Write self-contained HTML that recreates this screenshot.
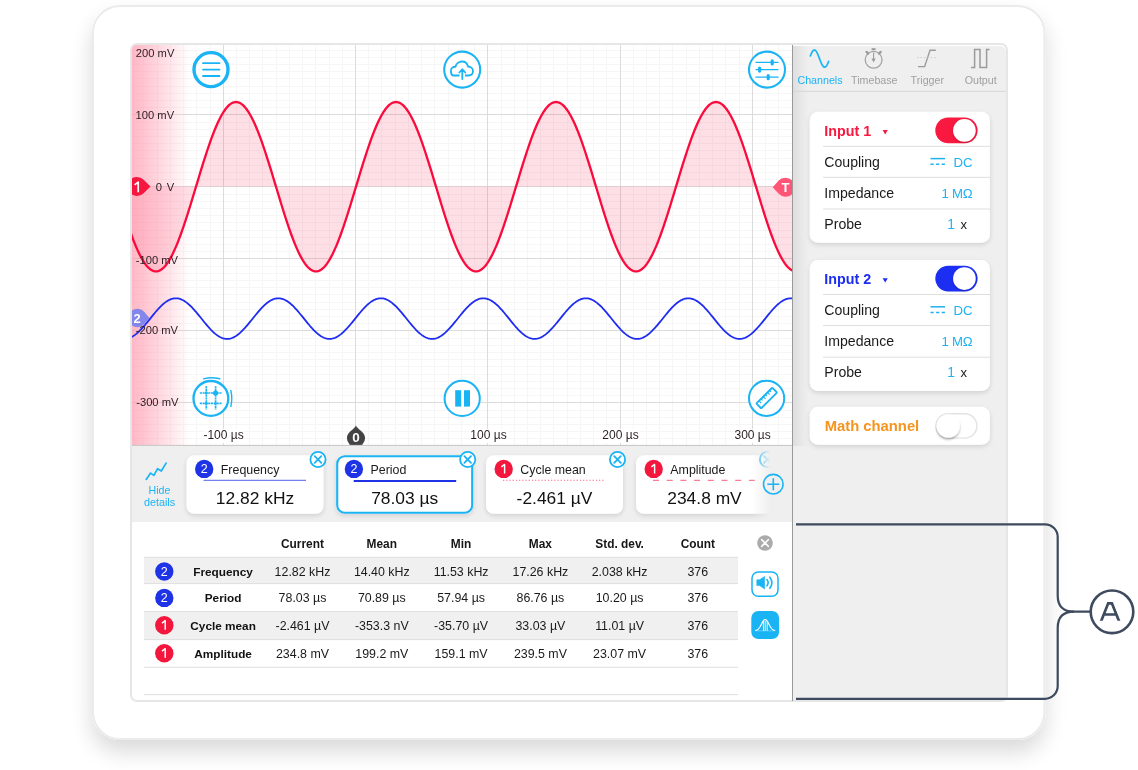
<!DOCTYPE html><html><head><meta charset="utf-8"><style>
html,body{margin:0;padding:0;width:1138px;height:770px;overflow:hidden;background:#fff;font-family:"Liberation Sans",sans-serif}
</style></head><body>
<svg width="1138" height="770" viewBox="0 0 1138 770" style="position:absolute;left:0;top:0;will-change:transform"><defs>
<filter id="fshadow" x="-10%" y="-10%" width="120%" height="125%"><feGaussianBlur in="SourceAlpha" stdDeviation="11"/><feOffset dy="12"/><feComponentTransfer><feFuncA type="linear" slope="0.15"/></feComponentTransfer><feMerge><feMergeNode/><feMergeNode in="SourceGraphic"/></feMerge></filter>
<filter id="cshadow" x="-20%" y="-20%" width="140%" height="150%"><feGaussianBlur in="SourceAlpha" stdDeviation="2.5"/><feOffset dy="1.5"/><feComponentTransfer><feFuncA type="linear" slope="0.13"/></feComponentTransfer><feMerge><feMergeNode/><feMergeNode in="SourceGraphic"/></feMerge></filter>
<linearGradient id="pinkgrad" x1="0" x2="1" y1="0" y2="0"><stop offset="0" stop-color="#ff8ea5" stop-opacity="0.64"/><stop offset="0.5" stop-color="#ff8ea5" stop-opacity="0.33"/><stop offset="1" stop-color="#ff8ea5" stop-opacity="0"/></linearGradient>
<linearGradient id="panelshade" x1="0" x2="1" y1="0" y2="0"><stop offset="0" stop-color="#000" stop-opacity="0.07"/><stop offset="1" stop-color="#000" stop-opacity="0"/></linearGradient>
<linearGradient id="fadeR" x1="0" x2="1" y1="0" y2="0"><stop offset="0" stop-color="#efefef" stop-opacity="0"/><stop offset="1" stop-color="#efefef" stop-opacity="1"/></linearGradient>
<clipPath id="scopeclip"><path d="M132 50 Q132 45 137 45 H792 V445 H132 Z"/></clipPath>
<clipPath id="barclip2"><rect x="132" y="446" width="640" height="76"/></clipPath><clipPath id="barclip"><rect x="132" y="446" width="660" height="76"/></clipPath>
<filter id="kshadow" x="-50%" y="-50%" width="200%" height="200%"><feGaussianBlur in="SourceAlpha" stdDeviation="1"/><feOffset dx="0" dy="1"/><feComponentTransfer><feFuncA type="linear" slope="0.25"/></feComponentTransfer><feMerge><feMergeNode/><feMergeNode in="SourceGraphic"/></feMerge></filter>
<filter id="kshadow2" x="-50%" y="-50%" width="200%" height="200%"><feGaussianBlur in="SourceAlpha" stdDeviation="1.2"/><feOffset dx="-0.5" dy="1.5"/><feComponentTransfer><feFuncA type="linear" slope="0.3"/></feComponentTransfer><feMerge><feMergeNode/><feMergeNode in="SourceGraphic"/></feMerge></filter>
</defs><rect x="93" y="6" width="951.5" height="733" rx="27" fill="#fff" stroke="#ebebeb" stroke-width="2" filter="url(#fshadow)"/><rect x="131" y="44" width="876" height="657" rx="6" fill="#fff" stroke="#e6e6e6" stroke-width="2"/><path d="M793 46 H1000 Q1006 46 1006 52 V700 H793 Z" fill="#efefef"/><rect x="793" y="46" width="15" height="400" fill="url(#panelshade)"/><rect x="132" y="446" width="660" height="76" fill="#efefef"/><g clip-path="url(#scopeclip)"><rect x="132" y="45" width="660" height="400" fill="#fff"/><line x1="143.50" y1="45" x2="143.50" y2="445" stroke="#f6f6f6" stroke-width="1"/><line x1="157.50" y1="45" x2="157.50" y2="445" stroke="#f6f6f6" stroke-width="1"/><line x1="170.50" y1="45" x2="170.50" y2="445" stroke="#f6f6f6" stroke-width="1"/><line x1="183.50" y1="45" x2="183.50" y2="445" stroke="#f6f6f6" stroke-width="1"/><line x1="196.50" y1="45" x2="196.50" y2="445" stroke="#f6f6f6" stroke-width="1"/><line x1="210.50" y1="45" x2="210.50" y2="445" stroke="#f6f6f6" stroke-width="1"/><line x1="236.50" y1="45" x2="236.50" y2="445" stroke="#f6f6f6" stroke-width="1"/><line x1="249.50" y1="45" x2="249.50" y2="445" stroke="#f6f6f6" stroke-width="1"/><line x1="262.50" y1="45" x2="262.50" y2="445" stroke="#f6f6f6" stroke-width="1"/><line x1="276.50" y1="45" x2="276.50" y2="445" stroke="#f6f6f6" stroke-width="1"/><line x1="289.50" y1="45" x2="289.50" y2="445" stroke="#f6f6f6" stroke-width="1"/><line x1="302.50" y1="45" x2="302.50" y2="445" stroke="#f6f6f6" stroke-width="1"/><line x1="315.50" y1="45" x2="315.50" y2="445" stroke="#f6f6f6" stroke-width="1"/><line x1="329.50" y1="45" x2="329.50" y2="445" stroke="#f6f6f6" stroke-width="1"/><line x1="342.50" y1="45" x2="342.50" y2="445" stroke="#f6f6f6" stroke-width="1"/><line x1="368.50" y1="45" x2="368.50" y2="445" stroke="#f6f6f6" stroke-width="1"/><line x1="381.50" y1="45" x2="381.50" y2="445" stroke="#f6f6f6" stroke-width="1"/><line x1="395.50" y1="45" x2="395.50" y2="445" stroke="#f6f6f6" stroke-width="1"/><line x1="408.50" y1="45" x2="408.50" y2="445" stroke="#f6f6f6" stroke-width="1"/><line x1="421.50" y1="45" x2="421.50" y2="445" stroke="#f6f6f6" stroke-width="1"/><line x1="434.50" y1="45" x2="434.50" y2="445" stroke="#f6f6f6" stroke-width="1"/><line x1="448.50" y1="45" x2="448.50" y2="445" stroke="#f6f6f6" stroke-width="1"/><line x1="461.50" y1="45" x2="461.50" y2="445" stroke="#f6f6f6" stroke-width="1"/><line x1="474.50" y1="45" x2="474.50" y2="445" stroke="#f6f6f6" stroke-width="1"/><line x1="501.50" y1="45" x2="501.50" y2="445" stroke="#f6f6f6" stroke-width="1"/><line x1="514.50" y1="45" x2="514.50" y2="445" stroke="#f6f6f6" stroke-width="1"/><line x1="527.50" y1="45" x2="527.50" y2="445" stroke="#f6f6f6" stroke-width="1"/><line x1="540.50" y1="45" x2="540.50" y2="445" stroke="#f6f6f6" stroke-width="1"/><line x1="553.50" y1="45" x2="553.50" y2="445" stroke="#f6f6f6" stroke-width="1"/><line x1="567.50" y1="45" x2="567.50" y2="445" stroke="#f6f6f6" stroke-width="1"/><line x1="580.50" y1="45" x2="580.50" y2="445" stroke="#f6f6f6" stroke-width="1"/><line x1="593.50" y1="45" x2="593.50" y2="445" stroke="#f6f6f6" stroke-width="1"/><line x1="606.50" y1="45" x2="606.50" y2="445" stroke="#f6f6f6" stroke-width="1"/><line x1="633.50" y1="45" x2="633.50" y2="445" stroke="#f6f6f6" stroke-width="1"/><line x1="646.50" y1="45" x2="646.50" y2="445" stroke="#f6f6f6" stroke-width="1"/><line x1="659.50" y1="45" x2="659.50" y2="445" stroke="#f6f6f6" stroke-width="1"/><line x1="672.50" y1="45" x2="672.50" y2="445" stroke="#f6f6f6" stroke-width="1"/><line x1="686.50" y1="45" x2="686.50" y2="445" stroke="#f6f6f6" stroke-width="1"/><line x1="699.50" y1="45" x2="699.50" y2="445" stroke="#f6f6f6" stroke-width="1"/><line x1="712.50" y1="45" x2="712.50" y2="445" stroke="#f6f6f6" stroke-width="1"/><line x1="725.50" y1="45" x2="725.50" y2="445" stroke="#f6f6f6" stroke-width="1"/><line x1="739.50" y1="45" x2="739.50" y2="445" stroke="#f6f6f6" stroke-width="1"/><line x1="765.50" y1="45" x2="765.50" y2="445" stroke="#f6f6f6" stroke-width="1"/><line x1="778.50" y1="45" x2="778.50" y2="445" stroke="#f6f6f6" stroke-width="1"/><line x1="132" y1="50.50" x2="792" y2="50.50" stroke="#f6f6f6" stroke-width="1"/><line x1="132" y1="57.50" x2="792" y2="57.50" stroke="#f6f6f6" stroke-width="1"/><line x1="132" y1="64.50" x2="792" y2="64.50" stroke="#f6f6f6" stroke-width="1"/><line x1="132" y1="71.50" x2="792" y2="71.50" stroke="#f6f6f6" stroke-width="1"/><line x1="132" y1="78.50" x2="792" y2="78.50" stroke="#f6f6f6" stroke-width="1"/><line x1="132" y1="86.50" x2="792" y2="86.50" stroke="#f6f6f6" stroke-width="1"/><line x1="132" y1="93.50" x2="792" y2="93.50" stroke="#f6f6f6" stroke-width="1"/><line x1="132" y1="100.50" x2="792" y2="100.50" stroke="#f6f6f6" stroke-width="1"/><line x1="132" y1="107.50" x2="792" y2="107.50" stroke="#f6f6f6" stroke-width="1"/><line x1="132" y1="122.50" x2="792" y2="122.50" stroke="#f6f6f6" stroke-width="1"/><line x1="132" y1="129.50" x2="792" y2="129.50" stroke="#f6f6f6" stroke-width="1"/><line x1="132" y1="136.50" x2="792" y2="136.50" stroke="#f6f6f6" stroke-width="1"/><line x1="132" y1="143.50" x2="792" y2="143.50" stroke="#f6f6f6" stroke-width="1"/><line x1="132" y1="150.50" x2="792" y2="150.50" stroke="#f6f6f6" stroke-width="1"/><line x1="132" y1="158.50" x2="792" y2="158.50" stroke="#f6f6f6" stroke-width="1"/><line x1="132" y1="165.50" x2="792" y2="165.50" stroke="#f6f6f6" stroke-width="1"/><line x1="132" y1="172.50" x2="792" y2="172.50" stroke="#f6f6f6" stroke-width="1"/><line x1="132" y1="179.50" x2="792" y2="179.50" stroke="#f6f6f6" stroke-width="1"/><line x1="132" y1="194.50" x2="792" y2="194.50" stroke="#f6f6f6" stroke-width="1"/><line x1="132" y1="201.50" x2="792" y2="201.50" stroke="#f6f6f6" stroke-width="1"/><line x1="132" y1="208.50" x2="792" y2="208.50" stroke="#f6f6f6" stroke-width="1"/><line x1="132" y1="215.50" x2="792" y2="215.50" stroke="#f6f6f6" stroke-width="1"/><line x1="132" y1="222.50" x2="792" y2="222.50" stroke="#f6f6f6" stroke-width="1"/><line x1="132" y1="230.50" x2="792" y2="230.50" stroke="#f6f6f6" stroke-width="1"/><line x1="132" y1="237.50" x2="792" y2="237.50" stroke="#f6f6f6" stroke-width="1"/><line x1="132" y1="244.50" x2="792" y2="244.50" stroke="#f6f6f6" stroke-width="1"/><line x1="132" y1="251.50" x2="792" y2="251.50" stroke="#f6f6f6" stroke-width="1"/><line x1="132" y1="266.50" x2="792" y2="266.50" stroke="#f6f6f6" stroke-width="1"/><line x1="132" y1="273.50" x2="792" y2="273.50" stroke="#f6f6f6" stroke-width="1"/><line x1="132" y1="280.50" x2="792" y2="280.50" stroke="#f6f6f6" stroke-width="1"/><line x1="132" y1="287.50" x2="792" y2="287.50" stroke="#f6f6f6" stroke-width="1"/><line x1="132" y1="294.50" x2="792" y2="294.50" stroke="#f6f6f6" stroke-width="1"/><line x1="132" y1="302.50" x2="792" y2="302.50" stroke="#f6f6f6" stroke-width="1"/><line x1="132" y1="309.50" x2="792" y2="309.50" stroke="#f6f6f6" stroke-width="1"/><line x1="132" y1="316.50" x2="792" y2="316.50" stroke="#f6f6f6" stroke-width="1"/><line x1="132" y1="323.50" x2="792" y2="323.50" stroke="#f6f6f6" stroke-width="1"/><line x1="132" y1="338.50" x2="792" y2="338.50" stroke="#f6f6f6" stroke-width="1"/><line x1="132" y1="345.50" x2="792" y2="345.50" stroke="#f6f6f6" stroke-width="1"/><line x1="132" y1="352.50" x2="792" y2="352.50" stroke="#f6f6f6" stroke-width="1"/><line x1="132" y1="359.50" x2="792" y2="359.50" stroke="#f6f6f6" stroke-width="1"/><line x1="132" y1="366.50" x2="792" y2="366.50" stroke="#f6f6f6" stroke-width="1"/><line x1="132" y1="374.50" x2="792" y2="374.50" stroke="#f6f6f6" stroke-width="1"/><line x1="132" y1="381.50" x2="792" y2="381.50" stroke="#f6f6f6" stroke-width="1"/><line x1="132" y1="388.50" x2="792" y2="388.50" stroke="#f6f6f6" stroke-width="1"/><line x1="132" y1="395.50" x2="792" y2="395.50" stroke="#f6f6f6" stroke-width="1"/><line x1="132" y1="410.50" x2="792" y2="410.50" stroke="#f6f6f6" stroke-width="1"/><line x1="132" y1="417.50" x2="792" y2="417.50" stroke="#f6f6f6" stroke-width="1"/><line x1="132" y1="424.50" x2="792" y2="424.50" stroke="#f6f6f6" stroke-width="1"/><line x1="132" y1="431.50" x2="792" y2="431.50" stroke="#f6f6f6" stroke-width="1"/><line x1="132" y1="438.50" x2="792" y2="438.50" stroke="#f6f6f6" stroke-width="1"/><line x1="223.50" y1="45" x2="223.50" y2="445" stroke="#dcdcdc" stroke-width="1"/><line x1="355.50" y1="45" x2="355.50" y2="445" stroke="#dcdcdc" stroke-width="1"/><line x1="487.50" y1="45" x2="487.50" y2="445" stroke="#dcdcdc" stroke-width="1"/><line x1="620.50" y1="45" x2="620.50" y2="445" stroke="#dcdcdc" stroke-width="1"/><line x1="752.50" y1="45" x2="752.50" y2="445" stroke="#dcdcdc" stroke-width="1"/><line x1="132" y1="114.50" x2="792" y2="114.50" stroke="#dcdcdc" stroke-width="1"/><line x1="132" y1="186.50" x2="792" y2="186.50" stroke="#dcdcdc" stroke-width="1"/><line x1="132" y1="258.50" x2="792" y2="258.50" stroke="#dcdcdc" stroke-width="1"/><line x1="132" y1="330.50" x2="792" y2="330.50" stroke="#dcdcdc" stroke-width="1"/><line x1="132" y1="402.50" x2="792" y2="402.50" stroke="#dcdcdc" stroke-width="1"/><path d="M130 186.4 L130.0 230.96 L131.0 233.76 L132.0 236.49 L133.0 239.14 L134.0 241.71 L135.0 244.19 L136.0 246.59 L137.0 248.90 L138.0 251.11 L139.0 253.22 L140.0 255.22 L141.0 257.13 L142.0 258.92 L143.0 260.60 L144.0 262.17 L145.0 263.62 L146.0 264.95 L147.0 266.16 L148.0 267.25 L149.0 268.22 L150.0 269.06 L151.0 269.77 L152.0 270.36 L153.0 270.81 L154.0 271.14 L155.0 271.33 L156.0 271.40 L157.0 271.33 L158.0 271.14 L159.0 270.81 L160.0 270.36 L161.0 269.77 L162.0 269.06 L163.0 268.22 L164.0 267.25 L165.0 266.16 L166.0 264.95 L167.0 263.62 L168.0 262.17 L169.0 260.60 L170.0 258.92 L171.0 257.13 L172.0 255.22 L173.0 253.22 L174.0 251.11 L175.0 248.90 L176.0 246.59 L177.0 244.19 L178.0 241.71 L179.0 239.14 L180.0 236.49 L181.0 233.76 L182.0 230.96 L183.0 228.09 L184.0 225.15 L185.0 222.16 L186.0 219.11 L187.0 216.02 L188.0 212.87 L189.0 209.69 L190.0 206.47 L191.0 203.22 L192.0 199.95 L193.0 196.66 L194.0 193.35 L195.0 190.03 L196.0 186.70 L197.0 183.37 L198.0 180.05 L199.0 176.74 L200.0 173.45 L201.0 170.18 L202.0 166.93 L203.0 163.71 L204.0 160.53 L205.0 157.38 L206.0 154.29 L207.0 151.24 L208.0 148.25 L209.0 145.31 L210.0 142.44 L211.0 139.64 L212.0 136.91 L213.0 134.26 L214.0 131.69 L215.0 129.21 L216.0 126.81 L217.0 124.50 L218.0 122.29 L219.0 120.18 L220.0 118.18 L221.0 116.27 L222.0 114.48 L223.0 112.80 L224.0 111.23 L225.0 109.78 L226.0 108.45 L227.0 107.24 L228.0 106.15 L229.0 105.18 L230.0 104.34 L231.0 103.63 L232.0 103.04 L233.0 102.59 L234.0 102.26 L235.0 102.07 L236.0 102.00 L237.0 102.07 L238.0 102.26 L239.0 102.59 L240.0 103.04 L241.0 103.63 L242.0 104.34 L243.0 105.18 L244.0 106.15 L245.0 107.24 L246.0 108.45 L247.0 109.78 L248.0 111.23 L249.0 112.80 L250.0 114.48 L251.0 116.27 L252.0 118.18 L253.0 120.18 L254.0 122.29 L255.0 124.50 L256.0 126.81 L257.0 129.21 L258.0 131.69 L259.0 134.26 L260.0 136.91 L261.0 139.64 L262.0 142.44 L263.0 145.31 L264.0 148.25 L265.0 151.24 L266.0 154.29 L267.0 157.38 L268.0 160.53 L269.0 163.71 L270.0 166.93 L271.0 170.18 L272.0 173.45 L273.0 176.74 L274.0 180.05 L275.0 183.37 L276.0 186.70 L277.0 190.03 L278.0 193.35 L279.0 196.66 L280.0 199.95 L281.0 203.22 L282.0 206.47 L283.0 209.69 L284.0 212.87 L285.0 216.02 L286.0 219.11 L287.0 222.16 L288.0 225.15 L289.0 228.09 L290.0 230.96 L291.0 233.76 L292.0 236.49 L293.0 239.14 L294.0 241.71 L295.0 244.19 L296.0 246.59 L297.0 248.90 L298.0 251.11 L299.0 253.22 L300.0 255.22 L301.0 257.13 L302.0 258.92 L303.0 260.60 L304.0 262.17 L305.0 263.62 L306.0 264.95 L307.0 266.16 L308.0 267.25 L309.0 268.22 L310.0 269.06 L311.0 269.77 L312.0 270.36 L313.0 270.81 L314.0 271.14 L315.0 271.33 L316.0 271.40 L317.0 271.33 L318.0 271.14 L319.0 270.81 L320.0 270.36 L321.0 269.77 L322.0 269.06 L323.0 268.22 L324.0 267.25 L325.0 266.16 L326.0 264.95 L327.0 263.62 L328.0 262.17 L329.0 260.60 L330.0 258.92 L331.0 257.13 L332.0 255.22 L333.0 253.22 L334.0 251.11 L335.0 248.90 L336.0 246.59 L337.0 244.19 L338.0 241.71 L339.0 239.14 L340.0 236.49 L341.0 233.76 L342.0 230.96 L343.0 228.09 L344.0 225.15 L345.0 222.16 L346.0 219.11 L347.0 216.02 L348.0 212.87 L349.0 209.69 L350.0 206.47 L351.0 203.22 L352.0 199.95 L353.0 196.66 L354.0 193.35 L355.0 190.03 L356.0 186.70 L357.0 183.37 L358.0 180.05 L359.0 176.74 L360.0 173.45 L361.0 170.18 L362.0 166.93 L363.0 163.71 L364.0 160.53 L365.0 157.38 L366.0 154.29 L367.0 151.24 L368.0 148.25 L369.0 145.31 L370.0 142.44 L371.0 139.64 L372.0 136.91 L373.0 134.26 L374.0 131.69 L375.0 129.21 L376.0 126.81 L377.0 124.50 L378.0 122.29 L379.0 120.18 L380.0 118.18 L381.0 116.27 L382.0 114.48 L383.0 112.80 L384.0 111.23 L385.0 109.78 L386.0 108.45 L387.0 107.24 L388.0 106.15 L389.0 105.18 L390.0 104.34 L391.0 103.63 L392.0 103.04 L393.0 102.59 L394.0 102.26 L395.0 102.07 L396.0 102.00 L397.0 102.07 L398.0 102.26 L399.0 102.59 L400.0 103.04 L401.0 103.63 L402.0 104.34 L403.0 105.18 L404.0 106.15 L405.0 107.24 L406.0 108.45 L407.0 109.78 L408.0 111.23 L409.0 112.80 L410.0 114.48 L411.0 116.27 L412.0 118.18 L413.0 120.18 L414.0 122.29 L415.0 124.50 L416.0 126.81 L417.0 129.21 L418.0 131.69 L419.0 134.26 L420.0 136.91 L421.0 139.64 L422.0 142.44 L423.0 145.31 L424.0 148.25 L425.0 151.24 L426.0 154.29 L427.0 157.38 L428.0 160.53 L429.0 163.71 L430.0 166.93 L431.0 170.18 L432.0 173.45 L433.0 176.74 L434.0 180.05 L435.0 183.37 L436.0 186.70 L437.0 190.03 L438.0 193.35 L439.0 196.66 L440.0 199.95 L441.0 203.22 L442.0 206.47 L443.0 209.69 L444.0 212.87 L445.0 216.02 L446.0 219.11 L447.0 222.16 L448.0 225.15 L449.0 228.09 L450.0 230.96 L451.0 233.76 L452.0 236.49 L453.0 239.14 L454.0 241.71 L455.0 244.19 L456.0 246.59 L457.0 248.90 L458.0 251.11 L459.0 253.22 L460.0 255.22 L461.0 257.13 L462.0 258.92 L463.0 260.60 L464.0 262.17 L465.0 263.62 L466.0 264.95 L467.0 266.16 L468.0 267.25 L469.0 268.22 L470.0 269.06 L471.0 269.77 L472.0 270.36 L473.0 270.81 L474.0 271.14 L475.0 271.33 L476.0 271.40 L477.0 271.33 L478.0 271.14 L479.0 270.81 L480.0 270.36 L481.0 269.77 L482.0 269.06 L483.0 268.22 L484.0 267.25 L485.0 266.16 L486.0 264.95 L487.0 263.62 L488.0 262.17 L489.0 260.60 L490.0 258.92 L491.0 257.13 L492.0 255.22 L493.0 253.22 L494.0 251.11 L495.0 248.90 L496.0 246.59 L497.0 244.19 L498.0 241.71 L499.0 239.14 L500.0 236.49 L501.0 233.76 L502.0 230.96 L503.0 228.09 L504.0 225.15 L505.0 222.16 L506.0 219.11 L507.0 216.02 L508.0 212.87 L509.0 209.69 L510.0 206.47 L511.0 203.22 L512.0 199.95 L513.0 196.66 L514.0 193.35 L515.0 190.03 L516.0 186.70 L517.0 183.37 L518.0 180.05 L519.0 176.74 L520.0 173.45 L521.0 170.18 L522.0 166.93 L523.0 163.71 L524.0 160.53 L525.0 157.38 L526.0 154.29 L527.0 151.24 L528.0 148.25 L529.0 145.31 L530.0 142.44 L531.0 139.64 L532.0 136.91 L533.0 134.26 L534.0 131.69 L535.0 129.21 L536.0 126.81 L537.0 124.50 L538.0 122.29 L539.0 120.18 L540.0 118.18 L541.0 116.27 L542.0 114.48 L543.0 112.80 L544.0 111.23 L545.0 109.78 L546.0 108.45 L547.0 107.24 L548.0 106.15 L549.0 105.18 L550.0 104.34 L551.0 103.63 L552.0 103.04 L553.0 102.59 L554.0 102.26 L555.0 102.07 L556.0 102.00 L557.0 102.07 L558.0 102.26 L559.0 102.59 L560.0 103.04 L561.0 103.63 L562.0 104.34 L563.0 105.18 L564.0 106.15 L565.0 107.24 L566.0 108.45 L567.0 109.78 L568.0 111.23 L569.0 112.80 L570.0 114.48 L571.0 116.27 L572.0 118.18 L573.0 120.18 L574.0 122.29 L575.0 124.50 L576.0 126.81 L577.0 129.21 L578.0 131.69 L579.0 134.26 L580.0 136.91 L581.0 139.64 L582.0 142.44 L583.0 145.31 L584.0 148.25 L585.0 151.24 L586.0 154.29 L587.0 157.38 L588.0 160.53 L589.0 163.71 L590.0 166.93 L591.0 170.18 L592.0 173.45 L593.0 176.74 L594.0 180.05 L595.0 183.37 L596.0 186.70 L597.0 190.03 L598.0 193.35 L599.0 196.66 L600.0 199.95 L601.0 203.22 L602.0 206.47 L603.0 209.69 L604.0 212.87 L605.0 216.02 L606.0 219.11 L607.0 222.16 L608.0 225.15 L609.0 228.09 L610.0 230.96 L611.0 233.76 L612.0 236.49 L613.0 239.14 L614.0 241.71 L615.0 244.19 L616.0 246.59 L617.0 248.90 L618.0 251.11 L619.0 253.22 L620.0 255.22 L621.0 257.13 L622.0 258.92 L623.0 260.60 L624.0 262.17 L625.0 263.62 L626.0 264.95 L627.0 266.16 L628.0 267.25 L629.0 268.22 L630.0 269.06 L631.0 269.77 L632.0 270.36 L633.0 270.81 L634.0 271.14 L635.0 271.33 L636.0 271.40 L637.0 271.33 L638.0 271.14 L639.0 270.81 L640.0 270.36 L641.0 269.77 L642.0 269.06 L643.0 268.22 L644.0 267.25 L645.0 266.16 L646.0 264.95 L647.0 263.62 L648.0 262.17 L649.0 260.60 L650.0 258.92 L651.0 257.13 L652.0 255.22 L653.0 253.22 L654.0 251.11 L655.0 248.90 L656.0 246.59 L657.0 244.19 L658.0 241.71 L659.0 239.14 L660.0 236.49 L661.0 233.76 L662.0 230.96 L663.0 228.09 L664.0 225.15 L665.0 222.16 L666.0 219.11 L667.0 216.02 L668.0 212.87 L669.0 209.69 L670.0 206.47 L671.0 203.22 L672.0 199.95 L673.0 196.66 L674.0 193.35 L675.0 190.03 L676.0 186.70 L677.0 183.37 L678.0 180.05 L679.0 176.74 L680.0 173.45 L681.0 170.18 L682.0 166.93 L683.0 163.71 L684.0 160.53 L685.0 157.38 L686.0 154.29 L687.0 151.24 L688.0 148.25 L689.0 145.31 L690.0 142.44 L691.0 139.64 L692.0 136.91 L693.0 134.26 L694.0 131.69 L695.0 129.21 L696.0 126.81 L697.0 124.50 L698.0 122.29 L699.0 120.18 L700.0 118.18 L701.0 116.27 L702.0 114.48 L703.0 112.80 L704.0 111.23 L705.0 109.78 L706.0 108.45 L707.0 107.24 L708.0 106.15 L709.0 105.18 L710.0 104.34 L711.0 103.63 L712.0 103.04 L713.0 102.59 L714.0 102.26 L715.0 102.07 L716.0 102.00 L717.0 102.07 L718.0 102.26 L719.0 102.59 L720.0 103.04 L721.0 103.63 L722.0 104.34 L723.0 105.18 L724.0 106.15 L725.0 107.24 L726.0 108.45 L727.0 109.78 L728.0 111.23 L729.0 112.80 L730.0 114.48 L731.0 116.27 L732.0 118.18 L733.0 120.18 L734.0 122.29 L735.0 124.50 L736.0 126.81 L737.0 129.21 L738.0 131.69 L739.0 134.26 L740.0 136.91 L741.0 139.64 L742.0 142.44 L743.0 145.31 L744.0 148.25 L745.0 151.24 L746.0 154.29 L747.0 157.38 L748.0 160.53 L749.0 163.71 L750.0 166.93 L751.0 170.18 L752.0 173.45 L753.0 176.74 L754.0 180.05 L755.0 183.37 L756.0 186.70 L757.0 190.03 L758.0 193.35 L759.0 196.66 L760.0 199.95 L761.0 203.22 L762.0 206.47 L763.0 209.69 L764.0 212.87 L765.0 216.02 L766.0 219.11 L767.0 222.16 L768.0 225.15 L769.0 228.09 L770.0 230.96 L771.0 233.76 L772.0 236.49 L773.0 239.14 L774.0 241.71 L775.0 244.19 L776.0 246.59 L777.0 248.90 L778.0 251.11 L779.0 253.22 L780.0 255.22 L781.0 257.13 L782.0 258.92 L783.0 260.60 L784.0 262.17 L785.0 263.62 L786.0 264.95 L787.0 266.16 L788.0 267.25 L789.0 268.22 L790.0 269.06 L791.0 269.77 L792.0 270.36 L793.0 270.81 L794.0 271.14 L794 186.4 Z" fill="#ff1f4b" fill-opacity="0.14"/><rect x="132" y="45" width="58" height="400" fill="url(#pinkgrad)"/><path d="M130.0 230.96 L131.0 233.76 L132.0 236.49 L133.0 239.14 L134.0 241.71 L135.0 244.19 L136.0 246.59 L137.0 248.90 L138.0 251.11 L139.0 253.22 L140.0 255.22 L141.0 257.13 L142.0 258.92 L143.0 260.60 L144.0 262.17 L145.0 263.62 L146.0 264.95 L147.0 266.16 L148.0 267.25 L149.0 268.22 L150.0 269.06 L151.0 269.77 L152.0 270.36 L153.0 270.81 L154.0 271.14 L155.0 271.33 L156.0 271.40 L157.0 271.33 L158.0 271.14 L159.0 270.81 L160.0 270.36 L161.0 269.77 L162.0 269.06 L163.0 268.22 L164.0 267.25 L165.0 266.16 L166.0 264.95 L167.0 263.62 L168.0 262.17 L169.0 260.60 L170.0 258.92 L171.0 257.13 L172.0 255.22 L173.0 253.22 L174.0 251.11 L175.0 248.90 L176.0 246.59 L177.0 244.19 L178.0 241.71 L179.0 239.14 L180.0 236.49 L181.0 233.76 L182.0 230.96 L183.0 228.09 L184.0 225.15 L185.0 222.16 L186.0 219.11 L187.0 216.02 L188.0 212.87 L189.0 209.69 L190.0 206.47 L191.0 203.22 L192.0 199.95 L193.0 196.66 L194.0 193.35 L195.0 190.03 L196.0 186.70 L197.0 183.37 L198.0 180.05 L199.0 176.74 L200.0 173.45 L201.0 170.18 L202.0 166.93 L203.0 163.71 L204.0 160.53 L205.0 157.38 L206.0 154.29 L207.0 151.24 L208.0 148.25 L209.0 145.31 L210.0 142.44 L211.0 139.64 L212.0 136.91 L213.0 134.26 L214.0 131.69 L215.0 129.21 L216.0 126.81 L217.0 124.50 L218.0 122.29 L219.0 120.18 L220.0 118.18 L221.0 116.27 L222.0 114.48 L223.0 112.80 L224.0 111.23 L225.0 109.78 L226.0 108.45 L227.0 107.24 L228.0 106.15 L229.0 105.18 L230.0 104.34 L231.0 103.63 L232.0 103.04 L233.0 102.59 L234.0 102.26 L235.0 102.07 L236.0 102.00 L237.0 102.07 L238.0 102.26 L239.0 102.59 L240.0 103.04 L241.0 103.63 L242.0 104.34 L243.0 105.18 L244.0 106.15 L245.0 107.24 L246.0 108.45 L247.0 109.78 L248.0 111.23 L249.0 112.80 L250.0 114.48 L251.0 116.27 L252.0 118.18 L253.0 120.18 L254.0 122.29 L255.0 124.50 L256.0 126.81 L257.0 129.21 L258.0 131.69 L259.0 134.26 L260.0 136.91 L261.0 139.64 L262.0 142.44 L263.0 145.31 L264.0 148.25 L265.0 151.24 L266.0 154.29 L267.0 157.38 L268.0 160.53 L269.0 163.71 L270.0 166.93 L271.0 170.18 L272.0 173.45 L273.0 176.74 L274.0 180.05 L275.0 183.37 L276.0 186.70 L277.0 190.03 L278.0 193.35 L279.0 196.66 L280.0 199.95 L281.0 203.22 L282.0 206.47 L283.0 209.69 L284.0 212.87 L285.0 216.02 L286.0 219.11 L287.0 222.16 L288.0 225.15 L289.0 228.09 L290.0 230.96 L291.0 233.76 L292.0 236.49 L293.0 239.14 L294.0 241.71 L295.0 244.19 L296.0 246.59 L297.0 248.90 L298.0 251.11 L299.0 253.22 L300.0 255.22 L301.0 257.13 L302.0 258.92 L303.0 260.60 L304.0 262.17 L305.0 263.62 L306.0 264.95 L307.0 266.16 L308.0 267.25 L309.0 268.22 L310.0 269.06 L311.0 269.77 L312.0 270.36 L313.0 270.81 L314.0 271.14 L315.0 271.33 L316.0 271.40 L317.0 271.33 L318.0 271.14 L319.0 270.81 L320.0 270.36 L321.0 269.77 L322.0 269.06 L323.0 268.22 L324.0 267.25 L325.0 266.16 L326.0 264.95 L327.0 263.62 L328.0 262.17 L329.0 260.60 L330.0 258.92 L331.0 257.13 L332.0 255.22 L333.0 253.22 L334.0 251.11 L335.0 248.90 L336.0 246.59 L337.0 244.19 L338.0 241.71 L339.0 239.14 L340.0 236.49 L341.0 233.76 L342.0 230.96 L343.0 228.09 L344.0 225.15 L345.0 222.16 L346.0 219.11 L347.0 216.02 L348.0 212.87 L349.0 209.69 L350.0 206.47 L351.0 203.22 L352.0 199.95 L353.0 196.66 L354.0 193.35 L355.0 190.03 L356.0 186.70 L357.0 183.37 L358.0 180.05 L359.0 176.74 L360.0 173.45 L361.0 170.18 L362.0 166.93 L363.0 163.71 L364.0 160.53 L365.0 157.38 L366.0 154.29 L367.0 151.24 L368.0 148.25 L369.0 145.31 L370.0 142.44 L371.0 139.64 L372.0 136.91 L373.0 134.26 L374.0 131.69 L375.0 129.21 L376.0 126.81 L377.0 124.50 L378.0 122.29 L379.0 120.18 L380.0 118.18 L381.0 116.27 L382.0 114.48 L383.0 112.80 L384.0 111.23 L385.0 109.78 L386.0 108.45 L387.0 107.24 L388.0 106.15 L389.0 105.18 L390.0 104.34 L391.0 103.63 L392.0 103.04 L393.0 102.59 L394.0 102.26 L395.0 102.07 L396.0 102.00 L397.0 102.07 L398.0 102.26 L399.0 102.59 L400.0 103.04 L401.0 103.63 L402.0 104.34 L403.0 105.18 L404.0 106.15 L405.0 107.24 L406.0 108.45 L407.0 109.78 L408.0 111.23 L409.0 112.80 L410.0 114.48 L411.0 116.27 L412.0 118.18 L413.0 120.18 L414.0 122.29 L415.0 124.50 L416.0 126.81 L417.0 129.21 L418.0 131.69 L419.0 134.26 L420.0 136.91 L421.0 139.64 L422.0 142.44 L423.0 145.31 L424.0 148.25 L425.0 151.24 L426.0 154.29 L427.0 157.38 L428.0 160.53 L429.0 163.71 L430.0 166.93 L431.0 170.18 L432.0 173.45 L433.0 176.74 L434.0 180.05 L435.0 183.37 L436.0 186.70 L437.0 190.03 L438.0 193.35 L439.0 196.66 L440.0 199.95 L441.0 203.22 L442.0 206.47 L443.0 209.69 L444.0 212.87 L445.0 216.02 L446.0 219.11 L447.0 222.16 L448.0 225.15 L449.0 228.09 L450.0 230.96 L451.0 233.76 L452.0 236.49 L453.0 239.14 L454.0 241.71 L455.0 244.19 L456.0 246.59 L457.0 248.90 L458.0 251.11 L459.0 253.22 L460.0 255.22 L461.0 257.13 L462.0 258.92 L463.0 260.60 L464.0 262.17 L465.0 263.62 L466.0 264.95 L467.0 266.16 L468.0 267.25 L469.0 268.22 L470.0 269.06 L471.0 269.77 L472.0 270.36 L473.0 270.81 L474.0 271.14 L475.0 271.33 L476.0 271.40 L477.0 271.33 L478.0 271.14 L479.0 270.81 L480.0 270.36 L481.0 269.77 L482.0 269.06 L483.0 268.22 L484.0 267.25 L485.0 266.16 L486.0 264.95 L487.0 263.62 L488.0 262.17 L489.0 260.60 L490.0 258.92 L491.0 257.13 L492.0 255.22 L493.0 253.22 L494.0 251.11 L495.0 248.90 L496.0 246.59 L497.0 244.19 L498.0 241.71 L499.0 239.14 L500.0 236.49 L501.0 233.76 L502.0 230.96 L503.0 228.09 L504.0 225.15 L505.0 222.16 L506.0 219.11 L507.0 216.02 L508.0 212.87 L509.0 209.69 L510.0 206.47 L511.0 203.22 L512.0 199.95 L513.0 196.66 L514.0 193.35 L515.0 190.03 L516.0 186.70 L517.0 183.37 L518.0 180.05 L519.0 176.74 L520.0 173.45 L521.0 170.18 L522.0 166.93 L523.0 163.71 L524.0 160.53 L525.0 157.38 L526.0 154.29 L527.0 151.24 L528.0 148.25 L529.0 145.31 L530.0 142.44 L531.0 139.64 L532.0 136.91 L533.0 134.26 L534.0 131.69 L535.0 129.21 L536.0 126.81 L537.0 124.50 L538.0 122.29 L539.0 120.18 L540.0 118.18 L541.0 116.27 L542.0 114.48 L543.0 112.80 L544.0 111.23 L545.0 109.78 L546.0 108.45 L547.0 107.24 L548.0 106.15 L549.0 105.18 L550.0 104.34 L551.0 103.63 L552.0 103.04 L553.0 102.59 L554.0 102.26 L555.0 102.07 L556.0 102.00 L557.0 102.07 L558.0 102.26 L559.0 102.59 L560.0 103.04 L561.0 103.63 L562.0 104.34 L563.0 105.18 L564.0 106.15 L565.0 107.24 L566.0 108.45 L567.0 109.78 L568.0 111.23 L569.0 112.80 L570.0 114.48 L571.0 116.27 L572.0 118.18 L573.0 120.18 L574.0 122.29 L575.0 124.50 L576.0 126.81 L577.0 129.21 L578.0 131.69 L579.0 134.26 L580.0 136.91 L581.0 139.64 L582.0 142.44 L583.0 145.31 L584.0 148.25 L585.0 151.24 L586.0 154.29 L587.0 157.38 L588.0 160.53 L589.0 163.71 L590.0 166.93 L591.0 170.18 L592.0 173.45 L593.0 176.74 L594.0 180.05 L595.0 183.37 L596.0 186.70 L597.0 190.03 L598.0 193.35 L599.0 196.66 L600.0 199.95 L601.0 203.22 L602.0 206.47 L603.0 209.69 L604.0 212.87 L605.0 216.02 L606.0 219.11 L607.0 222.16 L608.0 225.15 L609.0 228.09 L610.0 230.96 L611.0 233.76 L612.0 236.49 L613.0 239.14 L614.0 241.71 L615.0 244.19 L616.0 246.59 L617.0 248.90 L618.0 251.11 L619.0 253.22 L620.0 255.22 L621.0 257.13 L622.0 258.92 L623.0 260.60 L624.0 262.17 L625.0 263.62 L626.0 264.95 L627.0 266.16 L628.0 267.25 L629.0 268.22 L630.0 269.06 L631.0 269.77 L632.0 270.36 L633.0 270.81 L634.0 271.14 L635.0 271.33 L636.0 271.40 L637.0 271.33 L638.0 271.14 L639.0 270.81 L640.0 270.36 L641.0 269.77 L642.0 269.06 L643.0 268.22 L644.0 267.25 L645.0 266.16 L646.0 264.95 L647.0 263.62 L648.0 262.17 L649.0 260.60 L650.0 258.92 L651.0 257.13 L652.0 255.22 L653.0 253.22 L654.0 251.11 L655.0 248.90 L656.0 246.59 L657.0 244.19 L658.0 241.71 L659.0 239.14 L660.0 236.49 L661.0 233.76 L662.0 230.96 L663.0 228.09 L664.0 225.15 L665.0 222.16 L666.0 219.11 L667.0 216.02 L668.0 212.87 L669.0 209.69 L670.0 206.47 L671.0 203.22 L672.0 199.95 L673.0 196.66 L674.0 193.35 L675.0 190.03 L676.0 186.70 L677.0 183.37 L678.0 180.05 L679.0 176.74 L680.0 173.45 L681.0 170.18 L682.0 166.93 L683.0 163.71 L684.0 160.53 L685.0 157.38 L686.0 154.29 L687.0 151.24 L688.0 148.25 L689.0 145.31 L690.0 142.44 L691.0 139.64 L692.0 136.91 L693.0 134.26 L694.0 131.69 L695.0 129.21 L696.0 126.81 L697.0 124.50 L698.0 122.29 L699.0 120.18 L700.0 118.18 L701.0 116.27 L702.0 114.48 L703.0 112.80 L704.0 111.23 L705.0 109.78 L706.0 108.45 L707.0 107.24 L708.0 106.15 L709.0 105.18 L710.0 104.34 L711.0 103.63 L712.0 103.04 L713.0 102.59 L714.0 102.26 L715.0 102.07 L716.0 102.00 L717.0 102.07 L718.0 102.26 L719.0 102.59 L720.0 103.04 L721.0 103.63 L722.0 104.34 L723.0 105.18 L724.0 106.15 L725.0 107.24 L726.0 108.45 L727.0 109.78 L728.0 111.23 L729.0 112.80 L730.0 114.48 L731.0 116.27 L732.0 118.18 L733.0 120.18 L734.0 122.29 L735.0 124.50 L736.0 126.81 L737.0 129.21 L738.0 131.69 L739.0 134.26 L740.0 136.91 L741.0 139.64 L742.0 142.44 L743.0 145.31 L744.0 148.25 L745.0 151.24 L746.0 154.29 L747.0 157.38 L748.0 160.53 L749.0 163.71 L750.0 166.93 L751.0 170.18 L752.0 173.45 L753.0 176.74 L754.0 180.05 L755.0 183.37 L756.0 186.70 L757.0 190.03 L758.0 193.35 L759.0 196.66 L760.0 199.95 L761.0 203.22 L762.0 206.47 L763.0 209.69 L764.0 212.87 L765.0 216.02 L766.0 219.11 L767.0 222.16 L768.0 225.15 L769.0 228.09 L770.0 230.96 L771.0 233.76 L772.0 236.49 L773.0 239.14 L774.0 241.71 L775.0 244.19 L776.0 246.59 L777.0 248.90 L778.0 251.11 L779.0 253.22 L780.0 255.22 L781.0 257.13 L782.0 258.92 L783.0 260.60 L784.0 262.17 L785.0 263.62 L786.0 264.95 L787.0 266.16 L788.0 267.25 L789.0 268.22 L790.0 269.06 L791.0 269.77 L792.0 270.36 L793.0 270.81 L794.0 271.14" fill="none" stroke="#fb0a3c" stroke-width="2.3" stroke-linejoin="round"/><path d="M130.0 337.79 L131.0 337.35 L132.0 336.83 L133.0 336.25 L134.0 335.61 L135.0 334.89 L136.0 334.12 L137.0 333.29 L138.0 332.41 L139.0 331.47 L140.0 330.48 L141.0 329.45 L142.0 328.38 L143.0 327.27 L144.0 326.13 L145.0 324.96 L146.0 323.77 L147.0 322.56 L148.0 321.33 L149.0 320.09 L150.0 318.85 L151.0 317.60 L152.0 316.36 L153.0 315.13 L154.0 313.91 L155.0 312.71 L156.0 311.53 L157.0 310.38 L158.0 309.26 L159.0 308.17 L160.0 307.13 L161.0 306.12 L162.0 305.16 L163.0 304.26 L164.0 303.40 L165.0 302.61 L166.0 301.87 L167.0 301.20 L168.0 300.59 L169.0 300.05 L170.0 299.58 L171.0 299.18 L172.0 298.86 L173.0 298.60 L174.0 298.43 L175.0 298.33 L176.0 298.30 L177.0 298.35 L178.0 298.48 L179.0 298.68 L180.0 298.96 L181.0 299.31 L182.0 299.74 L183.0 300.23 L184.0 300.80 L185.0 301.43 L186.0 302.12 L187.0 302.88 L188.0 303.70 L189.0 304.57 L190.0 305.49 L191.0 306.47 L192.0 307.49 L193.0 308.55 L194.0 309.65 L195.0 310.78 L196.0 311.94 L197.0 313.13 L198.0 314.34 L199.0 315.56 L200.0 316.80 L201.0 318.04 L202.0 319.28 L203.0 320.53 L204.0 321.76 L205.0 322.98 L206.0 324.19 L207.0 325.37 L208.0 326.53 L209.0 327.66 L210.0 328.76 L211.0 329.82 L212.0 330.83 L213.0 331.80 L214.0 332.72 L215.0 333.59 L216.0 334.40 L217.0 335.15 L218.0 335.84 L219.0 336.46 L220.0 337.02 L221.0 337.51 L222.0 337.93 L223.0 338.27 L224.0 338.54 L225.0 338.74 L226.0 338.86 L227.0 338.90 L228.0 338.87 L229.0 338.76 L230.0 338.57 L231.0 338.32 L232.0 337.98 L233.0 337.58 L234.0 337.10 L235.0 336.55 L236.0 335.94 L237.0 335.26 L238.0 334.52 L239.0 333.71 L240.0 332.85 L241.0 331.94 L242.0 330.98 L243.0 329.97 L244.0 328.92 L245.0 327.83 L246.0 326.70 L247.0 325.55 L248.0 324.37 L249.0 323.16 L250.0 321.94 L251.0 320.71 L252.0 319.47 L253.0 318.23 L254.0 316.98 L255.0 315.75 L256.0 314.52 L257.0 313.31 L258.0 312.12 L259.0 310.95 L260.0 309.82 L261.0 308.71 L262.0 307.64 L263.0 306.62 L264.0 305.64 L265.0 304.70 L266.0 303.82 L267.0 303.00 L268.0 302.23 L269.0 301.53 L270.0 300.89 L271.0 300.31 L272.0 299.81 L273.0 299.37 L274.0 299.01 L275.0 298.72 L276.0 298.51 L277.0 298.37 L278.0 298.30 L279.0 298.32 L280.0 298.41 L281.0 298.57 L282.0 298.81 L283.0 299.13 L284.0 299.52 L285.0 299.98 L286.0 300.51 L287.0 301.10 L288.0 301.77 L289.0 302.49 L290.0 303.28 L291.0 304.13 L292.0 305.02 L293.0 305.97 L294.0 306.97 L295.0 308.01 L296.0 309.09 L297.0 310.21 L298.0 311.36 L299.0 312.53 L300.0 313.73 L301.0 314.95 L302.0 316.18 L303.0 317.42 L304.0 318.66 L305.0 319.91 L306.0 321.14 L307.0 322.37 L308.0 323.59 L309.0 324.78 L310.0 325.96 L311.0 327.10 L312.0 328.22 L313.0 329.29 L314.0 330.33 L315.0 331.32 L316.0 332.27 L317.0 333.16 L318.0 334.00 L319.0 334.78 L320.0 335.50 L321.0 336.16 L322.0 336.75 L323.0 337.27 L324.0 337.73 L325.0 338.11 L326.0 338.41 L327.0 338.65 L328.0 338.81 L329.0 338.89 L330.0 338.89 L331.0 338.82 L332.0 338.68 L333.0 338.45 L334.0 338.16 L335.0 337.79 L336.0 337.35 L337.0 336.83 L338.0 336.25 L339.0 335.61 L340.0 334.89 L341.0 334.12 L342.0 333.29 L343.0 332.41 L344.0 331.47 L345.0 330.48 L346.0 329.45 L347.0 328.38 L348.0 327.27 L349.0 326.13 L350.0 324.96 L351.0 323.77 L352.0 322.56 L353.0 321.33 L354.0 320.09 L355.0 318.85 L356.0 317.60 L357.0 316.36 L358.0 315.13 L359.0 313.91 L360.0 312.71 L361.0 311.53 L362.0 310.38 L363.0 309.26 L364.0 308.17 L365.0 307.13 L366.0 306.12 L367.0 305.16 L368.0 304.26 L369.0 303.40 L370.0 302.61 L371.0 301.87 L372.0 301.20 L373.0 300.59 L374.0 300.05 L375.0 299.58 L376.0 299.18 L377.0 298.86 L378.0 298.60 L379.0 298.43 L380.0 298.33 L381.0 298.30 L382.0 298.35 L383.0 298.48 L384.0 298.68 L385.0 298.96 L386.0 299.31 L387.0 299.74 L388.0 300.23 L389.0 300.80 L390.0 301.43 L391.0 302.12 L392.0 302.88 L393.0 303.70 L394.0 304.57 L395.0 305.49 L396.0 306.47 L397.0 307.49 L398.0 308.55 L399.0 309.65 L400.0 310.78 L401.0 311.94 L402.0 313.13 L403.0 314.34 L404.0 315.56 L405.0 316.80 L406.0 318.04 L407.0 319.28 L408.0 320.53 L409.0 321.76 L410.0 322.98 L411.0 324.19 L412.0 325.37 L413.0 326.53 L414.0 327.66 L415.0 328.76 L416.0 329.82 L417.0 330.83 L418.0 331.80 L419.0 332.72 L420.0 333.59 L421.0 334.40 L422.0 335.15 L423.0 335.84 L424.0 336.46 L425.0 337.02 L426.0 337.51 L427.0 337.93 L428.0 338.27 L429.0 338.54 L430.0 338.74 L431.0 338.86 L432.0 338.90 L433.0 338.87 L434.0 338.76 L435.0 338.57 L436.0 338.32 L437.0 337.98 L438.0 337.58 L439.0 337.10 L440.0 336.55 L441.0 335.94 L442.0 335.26 L443.0 334.52 L444.0 333.71 L445.0 332.85 L446.0 331.94 L447.0 330.98 L448.0 329.97 L449.0 328.92 L450.0 327.83 L451.0 326.70 L452.0 325.55 L453.0 324.37 L454.0 323.16 L455.0 321.94 L456.0 320.71 L457.0 319.47 L458.0 318.23 L459.0 316.98 L460.0 315.75 L461.0 314.52 L462.0 313.31 L463.0 312.12 L464.0 310.95 L465.0 309.82 L466.0 308.71 L467.0 307.64 L468.0 306.62 L469.0 305.64 L470.0 304.70 L471.0 303.82 L472.0 303.00 L473.0 302.23 L474.0 301.53 L475.0 300.89 L476.0 300.31 L477.0 299.81 L478.0 299.37 L479.0 299.01 L480.0 298.72 L481.0 298.51 L482.0 298.37 L483.0 298.30 L484.0 298.32 L485.0 298.41 L486.0 298.57 L487.0 298.81 L488.0 299.13 L489.0 299.52 L490.0 299.98 L491.0 300.51 L492.0 301.10 L493.0 301.77 L494.0 302.49 L495.0 303.28 L496.0 304.13 L497.0 305.02 L498.0 305.97 L499.0 306.97 L500.0 308.01 L501.0 309.09 L502.0 310.21 L503.0 311.36 L504.0 312.53 L505.0 313.73 L506.0 314.95 L507.0 316.18 L508.0 317.42 L509.0 318.66 L510.0 319.91 L511.0 321.14 L512.0 322.37 L513.0 323.59 L514.0 324.78 L515.0 325.96 L516.0 327.10 L517.0 328.22 L518.0 329.29 L519.0 330.33 L520.0 331.32 L521.0 332.27 L522.0 333.16 L523.0 334.00 L524.0 334.78 L525.0 335.50 L526.0 336.16 L527.0 336.75 L528.0 337.27 L529.0 337.73 L530.0 338.11 L531.0 338.41 L532.0 338.65 L533.0 338.81 L534.0 338.89 L535.0 338.89 L536.0 338.82 L537.0 338.68 L538.0 338.45 L539.0 338.16 L540.0 337.79 L541.0 337.35 L542.0 336.83 L543.0 336.25 L544.0 335.61 L545.0 334.89 L546.0 334.12 L547.0 333.29 L548.0 332.41 L549.0 331.47 L550.0 330.48 L551.0 329.45 L552.0 328.38 L553.0 327.27 L554.0 326.13 L555.0 324.96 L556.0 323.77 L557.0 322.56 L558.0 321.33 L559.0 320.09 L560.0 318.85 L561.0 317.60 L562.0 316.36 L563.0 315.13 L564.0 313.91 L565.0 312.71 L566.0 311.53 L567.0 310.38 L568.0 309.26 L569.0 308.17 L570.0 307.13 L571.0 306.12 L572.0 305.16 L573.0 304.26 L574.0 303.40 L575.0 302.61 L576.0 301.87 L577.0 301.20 L578.0 300.59 L579.0 300.05 L580.0 299.58 L581.0 299.18 L582.0 298.86 L583.0 298.60 L584.0 298.43 L585.0 298.33 L586.0 298.30 L587.0 298.35 L588.0 298.48 L589.0 298.68 L590.0 298.96 L591.0 299.31 L592.0 299.74 L593.0 300.23 L594.0 300.80 L595.0 301.43 L596.0 302.12 L597.0 302.88 L598.0 303.70 L599.0 304.57 L600.0 305.49 L601.0 306.47 L602.0 307.49 L603.0 308.55 L604.0 309.65 L605.0 310.78 L606.0 311.94 L607.0 313.13 L608.0 314.34 L609.0 315.56 L610.0 316.80 L611.0 318.04 L612.0 319.28 L613.0 320.53 L614.0 321.76 L615.0 322.98 L616.0 324.19 L617.0 325.37 L618.0 326.53 L619.0 327.66 L620.0 328.76 L621.0 329.82 L622.0 330.83 L623.0 331.80 L624.0 332.72 L625.0 333.59 L626.0 334.40 L627.0 335.15 L628.0 335.84 L629.0 336.46 L630.0 337.02 L631.0 337.51 L632.0 337.93 L633.0 338.27 L634.0 338.54 L635.0 338.74 L636.0 338.86 L637.0 338.90 L638.0 338.87 L639.0 338.76 L640.0 338.57 L641.0 338.32 L642.0 337.98 L643.0 337.58 L644.0 337.10 L645.0 336.55 L646.0 335.94 L647.0 335.26 L648.0 334.52 L649.0 333.71 L650.0 332.85 L651.0 331.94 L652.0 330.98 L653.0 329.97 L654.0 328.92 L655.0 327.83 L656.0 326.70 L657.0 325.55 L658.0 324.37 L659.0 323.16 L660.0 321.94 L661.0 320.71 L662.0 319.47 L663.0 318.23 L664.0 316.98 L665.0 315.75 L666.0 314.52 L667.0 313.31 L668.0 312.12 L669.0 310.95 L670.0 309.82 L671.0 308.71 L672.0 307.64 L673.0 306.62 L674.0 305.64 L675.0 304.70 L676.0 303.82 L677.0 303.00 L678.0 302.23 L679.0 301.53 L680.0 300.89 L681.0 300.31 L682.0 299.81 L683.0 299.37 L684.0 299.01 L685.0 298.72 L686.0 298.51 L687.0 298.37 L688.0 298.30 L689.0 298.32 L690.0 298.41 L691.0 298.57 L692.0 298.81 L693.0 299.13 L694.0 299.52 L695.0 299.98 L696.0 300.51 L697.0 301.10 L698.0 301.77 L699.0 302.49 L700.0 303.28 L701.0 304.13 L702.0 305.02 L703.0 305.97 L704.0 306.97 L705.0 308.01 L706.0 309.09 L707.0 310.21 L708.0 311.36 L709.0 312.53 L710.0 313.73 L711.0 314.95 L712.0 316.18 L713.0 317.42 L714.0 318.66 L715.0 319.91 L716.0 321.14 L717.0 322.37 L718.0 323.59 L719.0 324.78 L720.0 325.96 L721.0 327.10 L722.0 328.22 L723.0 329.29 L724.0 330.33 L725.0 331.32 L726.0 332.27 L727.0 333.16 L728.0 334.00 L729.0 334.78 L730.0 335.50 L731.0 336.16 L732.0 336.75 L733.0 337.27 L734.0 337.73 L735.0 338.11 L736.0 338.41 L737.0 338.65 L738.0 338.81 L739.0 338.89 L740.0 338.89 L741.0 338.82 L742.0 338.68 L743.0 338.45 L744.0 338.16 L745.0 337.79 L746.0 337.35 L747.0 336.83 L748.0 336.25 L749.0 335.61 L750.0 334.89 L751.0 334.12 L752.0 333.29 L753.0 332.41 L754.0 331.47 L755.0 330.48 L756.0 329.45 L757.0 328.38 L758.0 327.27 L759.0 326.13 L760.0 324.96 L761.0 323.77 L762.0 322.56 L763.0 321.33 L764.0 320.09 L765.0 318.85 L766.0 317.60 L767.0 316.36 L768.0 315.13 L769.0 313.91 L770.0 312.71 L771.0 311.53 L772.0 310.38 L773.0 309.26 L774.0 308.17 L775.0 307.13 L776.0 306.12 L777.0 305.16 L778.0 304.26 L779.0 303.40 L780.0 302.61 L781.0 301.87 L782.0 301.20 L783.0 300.59 L784.0 300.05 L785.0 299.58 L786.0 299.18 L787.0 298.86 L788.0 298.60 L789.0 298.43 L790.0 298.33 L791.0 298.30 L792.0 298.35 L793.0 298.48 L794.0 298.68" fill="none" stroke="#1e2cf0" stroke-width="1.8" stroke-linejoin="round"/><text x="135.8" y="57.3" font-size="11.2" font-family="Liberation Sans" fill="#2a1d21">200 mV</text><text x="135.6" y="118.9" font-size="11.2" font-family="Liberation Sans" fill="#2a1d21">100 mV</text><text x="135.8" y="263.7" font-size="11.2" font-family="Liberation Sans" fill="#2a1d21">-100 mV</text><text x="135.8" y="334.3" font-size="11.2" font-family="Liberation Sans" fill="#2a1d21">-200 mV</text><text x="136.2" y="406.2" font-size="11.2" font-family="Liberation Sans" fill="#2a1d21">-300 mV</text><text x="155.8" y="191" font-size="11.2" font-family="Liberation Sans" fill="#2a1d21" letter-spacing="0.8">0 V</text><rect x="204.6" y="429" width="38" height="14" fill="#fff"/><text x="223.6" y="439.3" font-size="12" text-anchor="middle" font-family="Liberation Sans" fill="#2a1d21">-100 µs</text><rect x="469.5" y="429" width="38" height="14" fill="#fff"/><text x="488.5" y="439.3" font-size="12" text-anchor="middle" font-family="Liberation Sans" fill="#2a1d21">100 µs</text><rect x="601.5" y="429" width="38" height="14" fill="#fff"/><text x="620.5" y="439.3" font-size="12" text-anchor="middle" font-family="Liberation Sans" fill="#2a1d21">200 µs</text><rect x="733.6" y="429" width="38" height="14" fill="#fff"/><text x="752.6" y="439.3" font-size="12" text-anchor="middle" font-family="Liberation Sans" fill="#2a1d21">300 µs</text><path d="M128 186.4 m0 -9.5 a9.5 9.5 0 1 1 0 19 Z" fill="none"/><path d="M150.5 186.4 L143.69 193.15 A9.5 9.5 0 1 1 143.69 179.65 Z" fill="#f5173f"/><path d="M134.59 184.82 L138.22 182.10 V192.30" fill="none" stroke="#fff" stroke-width="1.7" stroke-linejoin="round"/><path d="M149.4 318 L144.61 323.84 A9.2 9.2 0 1 1 144.61 312.16 Z" fill="#8487ea"/><text x="137.2" y="323" font-size="13" font-weight="bold" fill="#fff" text-anchor="middle" font-family="Liberation Sans">2</text><path d="M772.7 187.2 L778.45 180.83 A9.5 9.5 0 1 1 778.45 193.57 Z" fill="#ff5577"/><text x="785.4" y="192.2" font-size="13" font-weight="bold" fill="#fff" text-anchor="middle" font-family="Liberation Sans">T</text><path d="M355.9 425.4 C357.6 429.6 365.1 431.8 365.1 438 A9.1 9.1 0 1 1 346.9 438 C346.9 431.8 354.2 429.6 355.9 425.4 Z" fill="#444"/><text x="356" y="442" font-size="13.5" font-weight="bold" fill="#fff" text-anchor="middle" font-family="Liberation Sans">0</text><circle cx="211" cy="69.6" r="17" fill="#fff" fill-opacity="0.9" stroke="#1ab4f5" stroke-width="3.4"/><line x1="203" y1="63.2" x2="219.5" y2="63.2" stroke="#1ab4f5" stroke-width="1.8" stroke-linecap="round"/><line x1="203" y1="69.6" x2="219.5" y2="69.6" stroke="#1ab4f5" stroke-width="1.8" stroke-linecap="round"/><line x1="203" y1="76.0" x2="219.5" y2="76.0" stroke="#1ab4f5" stroke-width="1.8" stroke-linecap="round"/><circle cx="462.2" cy="69.6" r="18" fill="#fff" fill-opacity="0.9" stroke="#1ab4f5" stroke-width="2.1"/><path d="M459.5 75.5 H453.5 C450.5 75.5 451 70.5 451 70.5 C451 68 453 66.5 455.5 66.8 C456 63.5 459 61.5 462 61.5 C465.5 61.5 467.5 64 468 66.5 C471 66.5 473 68.5 473 71 C473 73.8 471 75.5 468.5 75.5 H465" fill="none" stroke="#1ab4f5" stroke-width="1.8" stroke-linejoin="round"/><path d="M462.3 79 V69.5 M459.3 72.5 L462.3 69.3 L465.3 72.5" fill="none" stroke="#1ab4f5" stroke-width="1.8" stroke-linecap="round" stroke-linejoin="round"/><circle cx="767" cy="69.6" r="18" fill="#fff" fill-opacity="0.9" stroke="#1ab4f5" stroke-width="2.1"/><line x1="756" y1="62.4" x2="778" y2="62.4" stroke="#1ab4f5" stroke-width="1.3" stroke-linecap="round"/><rect x="770.6" y="59.3" width="3.2" height="6.2" rx="1.6" fill="#1ab4f5"/><line x1="756" y1="69.6" x2="778" y2="69.6" stroke="#1ab4f5" stroke-width="1.3" stroke-linecap="round"/><rect x="758.0" y="66.5" width="3.2" height="6.2" rx="1.6" fill="#1ab4f5"/><line x1="756" y1="77.2" x2="778" y2="77.2" stroke="#1ab4f5" stroke-width="1.3" stroke-linecap="round"/><rect x="766.6" y="74.10000000000001" width="3.2" height="6.2" rx="1.6" fill="#1ab4f5"/><circle cx="210.9" cy="398.4" r="17.4" fill="#fff" fill-opacity="0.9" stroke="#1ab4f5" stroke-width="2.3"/><path d="M203.5 378.8 Q211.5 376.6 219.8 378.8" fill="none" stroke="#1ab4f5" stroke-width="1.4" stroke-linecap="round"/><path d="M230.8 390.5 Q232.8 398.4 230.8 406.5" fill="none" stroke="#1ab4f5" stroke-width="1.4" stroke-linecap="round"/><g stroke="#1ab4f5" stroke-width="1.7" stroke-dasharray="2.2 0.6"><line x1="206.3" y1="386.2" x2="206.3" y2="409.6"/><line x1="215.6" y1="386.2" x2="215.6" y2="409.6"/><line x1="199.8" y1="393" x2="222.2" y2="393"/><line x1="199.8" y1="403.4" x2="222.2" y2="403.4"/></g><circle cx="215.6" cy="393" r="2.6" fill="#1ab4f5"/><circle cx="206.3" cy="393" r="1.4" fill="#1ab4f5"/><circle cx="206.3" cy="403.4" r="1.4" fill="#1ab4f5"/><circle cx="215.6" cy="403.4" r="1.2" fill="#1ab4f5"/><circle cx="462.2" cy="398.4" r="17.6" fill="#fff" fill-opacity="0.9" stroke="#1ab4f5" stroke-width="2"/><rect x="455.2" y="390.2" width="6" height="16.4" fill="#1ab4f5"/><rect x="464" y="390.2" width="6" height="16.4" fill="#1ab4f5"/><circle cx="766.6" cy="398.3" r="17.6" fill="#fff" fill-opacity="0.9" stroke="#1ab4f5" stroke-width="2"/><g transform="translate(766.7 398) rotate(-45)"><rect x="-11.2" y="-3.4" width="22.4" height="6.8" rx="0.8" fill="none" stroke="#1ab4f5" stroke-width="1.8"/><path d="M-7.5 -3.4 v3.2 M-4.5 -3.4 v2.2 M-1.5 -3.4 v3.2 M1.5 -3.4 v2.2 M4.5 -3.4 v3.2 M7.5 -3.4 v2.2" stroke="#1ab4f5" stroke-width="1.1"/></g></g><line x1="792.5" y1="45" x2="792.5" y2="701" stroke="#9a9a9a" stroke-width="1"/><line x1="793" y1="91.3" x2="1006" y2="91.3" stroke="#d6d6d6" stroke-width="1"/><text x="820" y="83.5" font-family="Liberation Sans" font-size="10.7" text-anchor="middle" fill="#1ab4f5">Channels</text><text x="874.3" y="83.5" font-family="Liberation Sans" font-size="10.7" text-anchor="middle" fill="#a0a0a0">Timebase</text><text x="927.3" y="83.5" font-family="Liberation Sans" font-size="10.7" text-anchor="middle" fill="#a0a0a0">Trigger</text><text x="980.7" y="83.5" font-family="Liberation Sans" font-size="10.7" text-anchor="middle" fill="#a0a0a0">Output</text><path d="M810.30 55.94 L810.76 54.82 L811.22 53.77 L811.68 52.81 L812.14 51.97 L812.60 51.27 L813.06 50.71 L813.52 50.30 L813.98 50.07 L814.44 50.00 L814.90 50.11 L815.36 50.38 L815.82 50.82 L816.28 51.41 L816.74 52.15 L817.20 53.01 L817.66 53.99 L818.12 55.06 L818.58 56.20 L819.04 57.39 L819.50 58.60 L819.96 59.81 L820.42 61.00 L820.88 62.14 L821.34 63.21 L821.80 64.19 L822.26 65.05 L822.72 65.79 L823.18 66.38 L823.64 66.82 L824.10 67.09 L824.56 67.20 L825.02 67.13 L825.48 66.90 L825.94 66.49 L826.40 65.93 L826.86 65.23 L827.32 64.39 L827.78 63.43 L828.24 62.38 L828.70 61.26" fill="none" stroke="#1ab4f5" stroke-width="1.7" stroke-linecap="round"/><circle cx="873.6" cy="59.8" r="8.4" fill="none" stroke="#a4a4a4" stroke-width="1.3"/><rect x="871.6" y="48.2" width="4" height="2" fill="#9b9b9b"/><path d="M868.2 53.6 l-1.7 -1.7 M879 53.6 l1.7 -1.7" stroke="#9b9b9b" stroke-width="2.2" stroke-linecap="round"/><path d="M873.6 52.5 V60.5 M872 58.5 L873.6 61.3 L875.2 58.5" fill="none" stroke="#9b9b9b" stroke-width="1.1"/><path d="M918 66.6 H924.6 L930 50.2 H935.8" fill="none" stroke="#9b9b9b" stroke-width="1.4"/><path d="M917 57.6 H936" fill="none" stroke="#c4c4c4" stroke-width="0.8" stroke-dasharray="1.6 1.8"/><path d="M971 67.6 H974.6 V49.6 H980 V67.6 H986.6 V49.6 H989.5" fill="none" stroke="#9b9b9b" stroke-width="1.5"/><rect x="809.7" y="111.7" width="180.2" height="131" rx="8.5" fill="#fff" filter="url(#cshadow)"/><text x="824.3" y="136.3" font-family="Liberation Sans" font-size="14.3" font-weight="bold" fill="#f9183f">Input 1</text><path d="M882.6 130.0 L887.8 130.0 L885.2 134.4 Z" fill="#f9183f"/><rect x="935.3" y="117.5" width="42.3" height="25.8" rx="12.9" fill="#f9183f"/><circle cx="964.4" cy="130.4" r="11.3" fill="#fff" filter="url(#kshadow)"/><line x1="823" y1="146.3" x2="990" y2="146.3" stroke="#dedede" stroke-width="1"/><line x1="823" y1="177.3" x2="990" y2="177.3" stroke="#dedede" stroke-width="1"/><line x1="823" y1="209.0" x2="990" y2="209.0" stroke="#dedede" stroke-width="1"/><text x="824.3" y="166.8" font-family="Liberation Sans" font-size="14.1" fill="#1a1a1a">Coupling</text><text x="824.3" y="198.0" font-family="Liberation Sans" font-size="14.1" fill="#1a1a1a">Impedance</text><text x="824.3" y="228.6" font-family="Liberation Sans" font-size="14.1" fill="#1a1a1a">Probe</text><path d="M930.5 158.6 H945" stroke="#1eb2ef" stroke-width="1.5"/><path d="M930.5 164.2 H945" stroke="#1eb2ef" stroke-width="1.5" stroke-dasharray="3.2 2.4"/><text x="972.5" y="166.8" font-family="Liberation Sans" font-size="13.2" fill="#1eb2ef" text-anchor="end">DC</text><text x="972.5" y="198.0" font-family="Liberation Sans" font-size="13.2" fill="#1eb2ef" letter-spacing="-0.2" text-anchor="end">1 MΩ</text><text x="955" y="228.6" font-family="Liberation Sans" font-size="13.8" fill="#1eb2ef" text-anchor="end">1</text><text x="960.5" y="228.6" font-family="Liberation Sans" font-size="13" fill="#1a1a1a">x</text><rect x="809.7" y="259.9" width="180.2" height="131" rx="8.5" fill="#fff" filter="url(#cshadow)"/><text x="824.3" y="283.5" font-family="Liberation Sans" font-size="14.3" font-weight="bold" fill="#1b2ef2">Input 2</text><path d="M882.6 278.2 L887.8 278.2 L885.2 282.6 Z" fill="#1b2ef2"/><rect x="935.3" y="265.7" width="42.3" height="25.8" rx="12.9" fill="#1b2ef2"/><circle cx="964.4" cy="278.59999999999997" r="11.3" fill="#fff" filter="url(#kshadow)"/><line x1="823" y1="294.5" x2="990" y2="294.5" stroke="#dedede" stroke-width="1"/><line x1="823" y1="325.5" x2="990" y2="325.5" stroke="#dedede" stroke-width="1"/><line x1="823" y1="357.2" x2="990" y2="357.2" stroke="#dedede" stroke-width="1"/><text x="824.3" y="315.0" font-family="Liberation Sans" font-size="14.1" fill="#1a1a1a">Coupling</text><text x="824.3" y="346.2" font-family="Liberation Sans" font-size="14.1" fill="#1a1a1a">Impedance</text><text x="824.3" y="376.8" font-family="Liberation Sans" font-size="14.1" fill="#1a1a1a">Probe</text><path d="M930.5 306.8 H945" stroke="#1eb2ef" stroke-width="1.5"/><path d="M930.5 312.4 H945" stroke="#1eb2ef" stroke-width="1.5" stroke-dasharray="3.2 2.4"/><text x="972.5" y="315.0" font-family="Liberation Sans" font-size="13.2" fill="#1eb2ef" text-anchor="end">DC</text><text x="972.5" y="346.2" font-family="Liberation Sans" font-size="13.2" fill="#1eb2ef" letter-spacing="-0.2" text-anchor="end">1 MΩ</text><text x="955" y="376.8" font-family="Liberation Sans" font-size="13.8" fill="#1eb2ef" text-anchor="end">1</text><text x="960.5" y="376.8" font-family="Liberation Sans" font-size="13" fill="#1a1a1a">x</text><rect x="809.7" y="406.8" width="180.2" height="38" rx="8.5" fill="#fff" filter="url(#cshadow)"/><text x="824.7" y="430.8" font-family="Liberation Sans" font-size="14.8" font-weight="bold" fill="#f7941d">Math channel</text><rect x="936.0" y="413.7" width="40.9" height="24.400000000000002" rx="12.200000000000001" fill="#fff" stroke="#e3e3e3" stroke-width="1.4"/><circle cx="948.1999999999999" cy="425.9" r="11.700000000000001" fill="#fff" filter="url(#kshadow2)"/><line x1="132" y1="445.4" x2="792" y2="445.4" stroke="#c4c4c4" stroke-width="1"/><path d="M146.2 479.4 L150.6 473.1 L153.9 475.4 L157.6 468.7 L161.3 471 L166.1 463.1" fill="none" stroke="#1ab4f5" stroke-width="1.7" stroke-linejoin="round" stroke-linecap="round"/><text x="159.5" y="494.4" font-family="Liberation Sans" font-size="10.6" text-anchor="middle" fill="#1ab4f5">Hide</text><text x="159.5" y="506" font-family="Liberation Sans" font-size="10.8" text-anchor="middle" fill="#1ab4f5">details</text><g clip-path="url(#barclip2)"><rect x="186.5" y="455.2" width="137" height="58.6" rx="8" fill="#fff" filter="url(#cshadow)"/><circle cx="204.2" cy="468.9" r="9.2" fill="#1e32e6"/><text x="204.2" y="473.3" font-family="Liberation Sans" font-size="12.5" text-anchor="middle" fill="#fff">2</text><text x="220.8" y="473.6" font-family="Liberation Sans" font-size="12.4" fill="#1a1a1a">Frequency</text><line x1="203.5" y1="480.3" x2="306.0" y2="480.3" stroke="#7380f0" stroke-width="1.3"/><text x="255.0" y="504" font-family="Liberation Sans" font-size="17.4" text-anchor="middle" fill="#111">12.82 kHz</text><circle cx="318.0" cy="459.5" r="7.6" fill="#fff" stroke="#1ab4f5" stroke-width="1.8"/><path d="M314.7 456.2 l6.6 6.6 M321.3 456.2 l-6.6 6.6" stroke="#1ab4f5" stroke-width="1.8" stroke-linecap="round"/><rect x="336.2" y="455.2" width="137" height="58.6" rx="8" fill="#fff" filter="url(#cshadow)"/><rect x="337.2" y="456.2" width="135" height="56.6" rx="7.5" fill="none" stroke="#1ab4f5" stroke-width="2.1"/><circle cx="353.9" cy="468.9" r="9.2" fill="#1e32e6"/><text x="353.9" y="473.3" font-family="Liberation Sans" font-size="12.5" text-anchor="middle" fill="#fff">2</text><text x="370.5" y="473.6" font-family="Liberation Sans" font-size="12.4" fill="#1a1a1a">Period</text><line x1="353.7" y1="481.1" x2="456.2" y2="481.1" stroke="#1e32e6" stroke-width="2"/><text x="404.7" y="504" font-family="Liberation Sans" font-size="17.4" text-anchor="middle" fill="#111">78.03 µs</text><circle cx="467.7" cy="459.5" r="7.6" fill="#fff" stroke="#1ab4f5" stroke-width="1.8"/><path d="M464.4 456.2 l6.6 6.6 M471.0 456.2 l-6.6 6.6" stroke="#1ab4f5" stroke-width="1.8" stroke-linecap="round"/><rect x="486.0" y="455.2" width="137" height="58.6" rx="8" fill="#fff" filter="url(#cshadow)"/><circle cx="503.7" cy="468.9" r="9.2" fill="#f3173e"/><path d="M501.40 466.80 L504.60 464.40 V473.40" fill="none" stroke="#fff" stroke-width="1.45" stroke-linejoin="round"/><text x="520.3" y="473.6" font-family="Liberation Sans" font-size="12.4" fill="#1a1a1a">Cycle mean</text><line x1="503.0" y1="480.3" x2="604.0" y2="480.3" stroke="#f76b86" stroke-width="1.1" stroke-dasharray="1.3 1.9"/><text x="554.5" y="504" font-family="Liberation Sans" font-size="17.4" text-anchor="middle" fill="#111">-2.461 µV</text><circle cx="617.5" cy="459.5" r="7.6" fill="#fff" stroke="#1ab4f5" stroke-width="1.8"/><path d="M614.2 456.2 l6.6 6.6 M620.8 456.2 l-6.6 6.6" stroke="#1ab4f5" stroke-width="1.8" stroke-linecap="round"/><rect x="636.0" y="455.2" width="137" height="58.6" rx="8" fill="#fff" filter="url(#cshadow)"/><circle cx="653.7" cy="468.9" r="9.2" fill="#f3173e"/><path d="M651.40 466.80 L654.60 464.40 V473.40" fill="none" stroke="#fff" stroke-width="1.45" stroke-linejoin="round"/><text x="670.3" y="473.6" font-family="Liberation Sans" font-size="12.4" fill="#1a1a1a">Amplitude</text><line x1="653.0" y1="480.3" x2="755.5" y2="480.3" stroke="#f77d95" stroke-width="1.3" stroke-dasharray="6 7.7"/><text x="704.5" y="504" font-family="Liberation Sans" font-size="17.4" text-anchor="middle" fill="#111">234.8 mV</text><circle cx="767.5" cy="459.5" r="7.6" fill="#fff" stroke="#1ab4f5" stroke-width="1.8"/><path d="M764.2 456.2 l6.6 6.6 M770.8 456.2 l-6.6 6.6" stroke="#1ab4f5" stroke-width="1.8" stroke-linecap="round"/><rect x="752" y="446" width="18" height="76" fill="url(#fadeR)"/><rect x="770" y="446" width="22" height="76" fill="#efefef"/></g><circle cx="773.3" cy="484.2" r="9.8" fill="none" stroke="#1ab4f5" stroke-width="1.6"/><path d="M767.3 484.2 H779.3 M773.3 478.2 V490.2" stroke="#1ab4f5" stroke-width="1.6"/><rect x="144" y="557.3" width="594" height="26.3" fill="#f0f0f0"/><rect x="144" y="611.5" width="594" height="28.1" fill="#f0f0f0"/><line x1="144" y1="557.3" x2="738" y2="557.3" stroke="#dfdfdf" stroke-width="1"/><line x1="144" y1="583.6" x2="738" y2="583.6" stroke="#dfdfdf" stroke-width="1"/><line x1="144" y1="611.5" x2="738" y2="611.5" stroke="#dfdfdf" stroke-width="1"/><line x1="144" y1="639.6" x2="738" y2="639.6" stroke="#dfdfdf" stroke-width="1"/><line x1="144" y1="667.3" x2="738" y2="667.3" stroke="#dfdfdf" stroke-width="1"/><line x1="144" y1="694.6" x2="738" y2="694.6" stroke="#dfdfdf" stroke-width="1"/><text x="302.5" y="548.2" font-family="Liberation Sans" font-size="11.9" font-weight="bold" text-anchor="middle" fill="#161616">Current</text><text x="381.8" y="548.2" font-family="Liberation Sans" font-size="11.9" font-weight="bold" text-anchor="middle" fill="#161616">Mean</text><text x="461.1" y="548.2" font-family="Liberation Sans" font-size="11.9" font-weight="bold" text-anchor="middle" fill="#161616">Min</text><text x="540.4" y="548.2" font-family="Liberation Sans" font-size="11.9" font-weight="bold" text-anchor="middle" fill="#161616">Max</text><text x="619.6" y="548.2" font-family="Liberation Sans" font-size="11.9" font-weight="bold" text-anchor="middle" fill="#161616">Std. dev.</text><text x="697.8" y="548.2" font-family="Liberation Sans" font-size="11.9" font-weight="bold" text-anchor="middle" fill="#161616">Count</text><circle cx="164.3" cy="571.5" r="9.2" fill="#1e32e6"/><text x="164.3" y="575.9" font-family="Liberation Sans" font-size="12.5" text-anchor="middle" fill="#fff">2</text><text x="223.1" y="575.9" font-family="Liberation Sans" font-size="11.8" font-weight="bold" text-anchor="middle" fill="#111">Frequency</text><text x="302.5" y="575.9" font-family="Liberation Sans" font-size="12.4" text-anchor="middle" fill="#1a1a1a">12.82 kHz</text><text x="381.8" y="575.9" font-family="Liberation Sans" font-size="12.4" text-anchor="middle" fill="#1a1a1a">14.40 kHz</text><text x="461.1" y="575.9" font-family="Liberation Sans" font-size="12.4" text-anchor="middle" fill="#1a1a1a">11.53 kHz</text><text x="540.4" y="575.9" font-family="Liberation Sans" font-size="12.4" text-anchor="middle" fill="#1a1a1a">17.26 kHz</text><text x="619.6" y="575.9" font-family="Liberation Sans" font-size="12.4" text-anchor="middle" fill="#1a1a1a">2.038 kHz</text><text x="697.8" y="575.9" font-family="Liberation Sans" font-size="12.4" text-anchor="middle" fill="#1a1a1a">376</text><circle cx="164.3" cy="597.9" r="9.2" fill="#1e32e6"/><text x="164.3" y="602.3" font-family="Liberation Sans" font-size="12.5" text-anchor="middle" fill="#fff">2</text><text x="223.1" y="602.3" font-family="Liberation Sans" font-size="11.8" font-weight="bold" text-anchor="middle" fill="#111">Period</text><text x="302.5" y="602.3" font-family="Liberation Sans" font-size="12.4" text-anchor="middle" fill="#1a1a1a">78.03 µs</text><text x="381.8" y="602.3" font-family="Liberation Sans" font-size="12.4" text-anchor="middle" fill="#1a1a1a">70.89 µs</text><text x="461.1" y="602.3" font-family="Liberation Sans" font-size="12.4" text-anchor="middle" fill="#1a1a1a">57.94 µs</text><text x="540.4" y="602.3" font-family="Liberation Sans" font-size="12.4" text-anchor="middle" fill="#1a1a1a">86.76 µs</text><text x="619.6" y="602.3" font-family="Liberation Sans" font-size="12.4" text-anchor="middle" fill="#1a1a1a">10.20 µs</text><text x="697.8" y="602.3" font-family="Liberation Sans" font-size="12.4" text-anchor="middle" fill="#1a1a1a">376</text><circle cx="164.3" cy="625.2" r="9.2" fill="#f3173e"/><path d="M162.00 623.10 L165.20 620.70 V629.70" fill="none" stroke="#fff" stroke-width="1.45" stroke-linejoin="round"/><text x="223.1" y="629.6" font-family="Liberation Sans" font-size="11.8" font-weight="bold" text-anchor="middle" fill="#111">Cycle mean</text><text x="302.5" y="629.6" font-family="Liberation Sans" font-size="12.4" text-anchor="middle" fill="#1a1a1a">-2.461 µV</text><text x="381.8" y="629.6" font-family="Liberation Sans" font-size="12.4" text-anchor="middle" fill="#1a1a1a">-353.3 nV</text><text x="461.1" y="629.6" font-family="Liberation Sans" font-size="12.4" text-anchor="middle" fill="#1a1a1a">-35.70 µV</text><text x="540.4" y="629.6" font-family="Liberation Sans" font-size="12.4" text-anchor="middle" fill="#1a1a1a">33.03 µV</text><text x="619.6" y="629.6" font-family="Liberation Sans" font-size="12.4" text-anchor="middle" fill="#1a1a1a">11.01 µV</text><text x="697.8" y="629.6" font-family="Liberation Sans" font-size="12.4" text-anchor="middle" fill="#1a1a1a">376</text><circle cx="164.3" cy="653.2" r="9.2" fill="#f3173e"/><path d="M162.00 651.10 L165.20 648.70 V657.70" fill="none" stroke="#fff" stroke-width="1.45" stroke-linejoin="round"/><text x="223.1" y="657.6" font-family="Liberation Sans" font-size="11.8" font-weight="bold" text-anchor="middle" fill="#111">Amplitude</text><text x="302.5" y="657.6" font-family="Liberation Sans" font-size="12.4" text-anchor="middle" fill="#1a1a1a">234.8 mV</text><text x="381.8" y="657.6" font-family="Liberation Sans" font-size="12.4" text-anchor="middle" fill="#1a1a1a">199.2 mV</text><text x="461.1" y="657.6" font-family="Liberation Sans" font-size="12.4" text-anchor="middle" fill="#1a1a1a">159.1 mV</text><text x="540.4" y="657.6" font-family="Liberation Sans" font-size="12.4" text-anchor="middle" fill="#1a1a1a">239.5 mV</text><text x="619.6" y="657.6" font-family="Liberation Sans" font-size="12.4" text-anchor="middle" fill="#1a1a1a">23.07 mV</text><text x="697.8" y="657.6" font-family="Liberation Sans" font-size="12.4" text-anchor="middle" fill="#1a1a1a">376</text><circle cx="765" cy="543" r="7.8" fill="#ababab"/><path d="M761.6 539.6 L768.4 546.4 M768.4 539.6 L761.6 546.4" stroke="#fff" stroke-width="1.5" stroke-linecap="round"/><rect x="752" y="571.9" width="26" height="24.4" rx="6.2" fill="#fff" stroke="#1ab4f5" stroke-width="1.5"/><path d="M756.8 579.8 H759.6 L764.6 576.4 V589 L759.6 585.6 H756.8 Z" fill="#1ab4f5" stroke="#1ab4f5" stroke-width="0.6" stroke-linejoin="round"/><path d="M766.9 579.6 Q769.4 582.7 766.9 585.8 M769.8 577.2 Q774 582.7 769.8 588.2" fill="none" stroke="#1ab4f5" stroke-width="1.6" stroke-linecap="round"/><rect x="751.3" y="611" width="27.8" height="28" rx="7" fill="#1ab4f5"/><path d="M755.20 630.56 L755.70 630.45 L756.20 630.30 L756.70 630.10 L757.20 629.84 L757.70 629.51 L758.20 629.09 L758.70 628.59 L759.20 627.98 L759.70 627.28 L760.20 626.49 L760.70 625.63 L761.20 624.70 L761.70 623.76 L762.20 622.81 L762.70 621.92 L763.20 621.12 L763.70 620.44 L764.20 619.93 L764.70 619.61 L765.20 619.50 L765.70 619.61 L766.20 619.93 L766.70 620.44 L767.20 621.12 L767.70 621.92 L768.20 622.81 L768.70 623.76 L769.20 624.70 L769.70 625.63 L770.20 626.49 L770.70 627.28 L771.20 627.98 L771.70 628.59 L772.20 629.09 L772.70 629.51 L773.20 629.84 L773.70 630.10 L774.20 630.30 L774.70 630.45 L775.20 630.56" fill="none" stroke="#fff" stroke-width="1.2"/><path d="M763.4 630.8 V620.83 M765.2 630.8 V621.00 M767.2 630.8 V621.12" stroke="#fff" stroke-width="0.9"/><path d="M757 630.8 H773.5" stroke="#fff" stroke-width="0.6" opacity="0.5"/><path d="M796 524.3 H1045 A12.7 12.7 0 0 1 1057.7 537 V595.5 Q1057.7 611.7 1074 611.7 H1090" fill="none" stroke="#3e4a5e" stroke-width="2.2"/><path d="M796 698.8 H1045 A12.7 12.7 0 0 0 1057.7 686.1 V628 Q1057.7 611.7 1074 611.7" fill="none" stroke="#3e4a5e" stroke-width="2.2"/><circle cx="1112" cy="611.8" r="21.3" fill="#fff" stroke="#3e4a5e" stroke-width="2.6"/><clipPath id="aclip"><rect x="1090" y="590" width="44" height="30.8"/></clipPath><path clip-path="url(#aclip)" d="M1100.6 622.5 L1108.2 603.3 H1111.9 L1119.6 622.5 M1104.2 614.5 H1116" fill="none" stroke="#3e4a5e" stroke-width="2.7" stroke-linejoin="miter"/></svg>
</body></html>
